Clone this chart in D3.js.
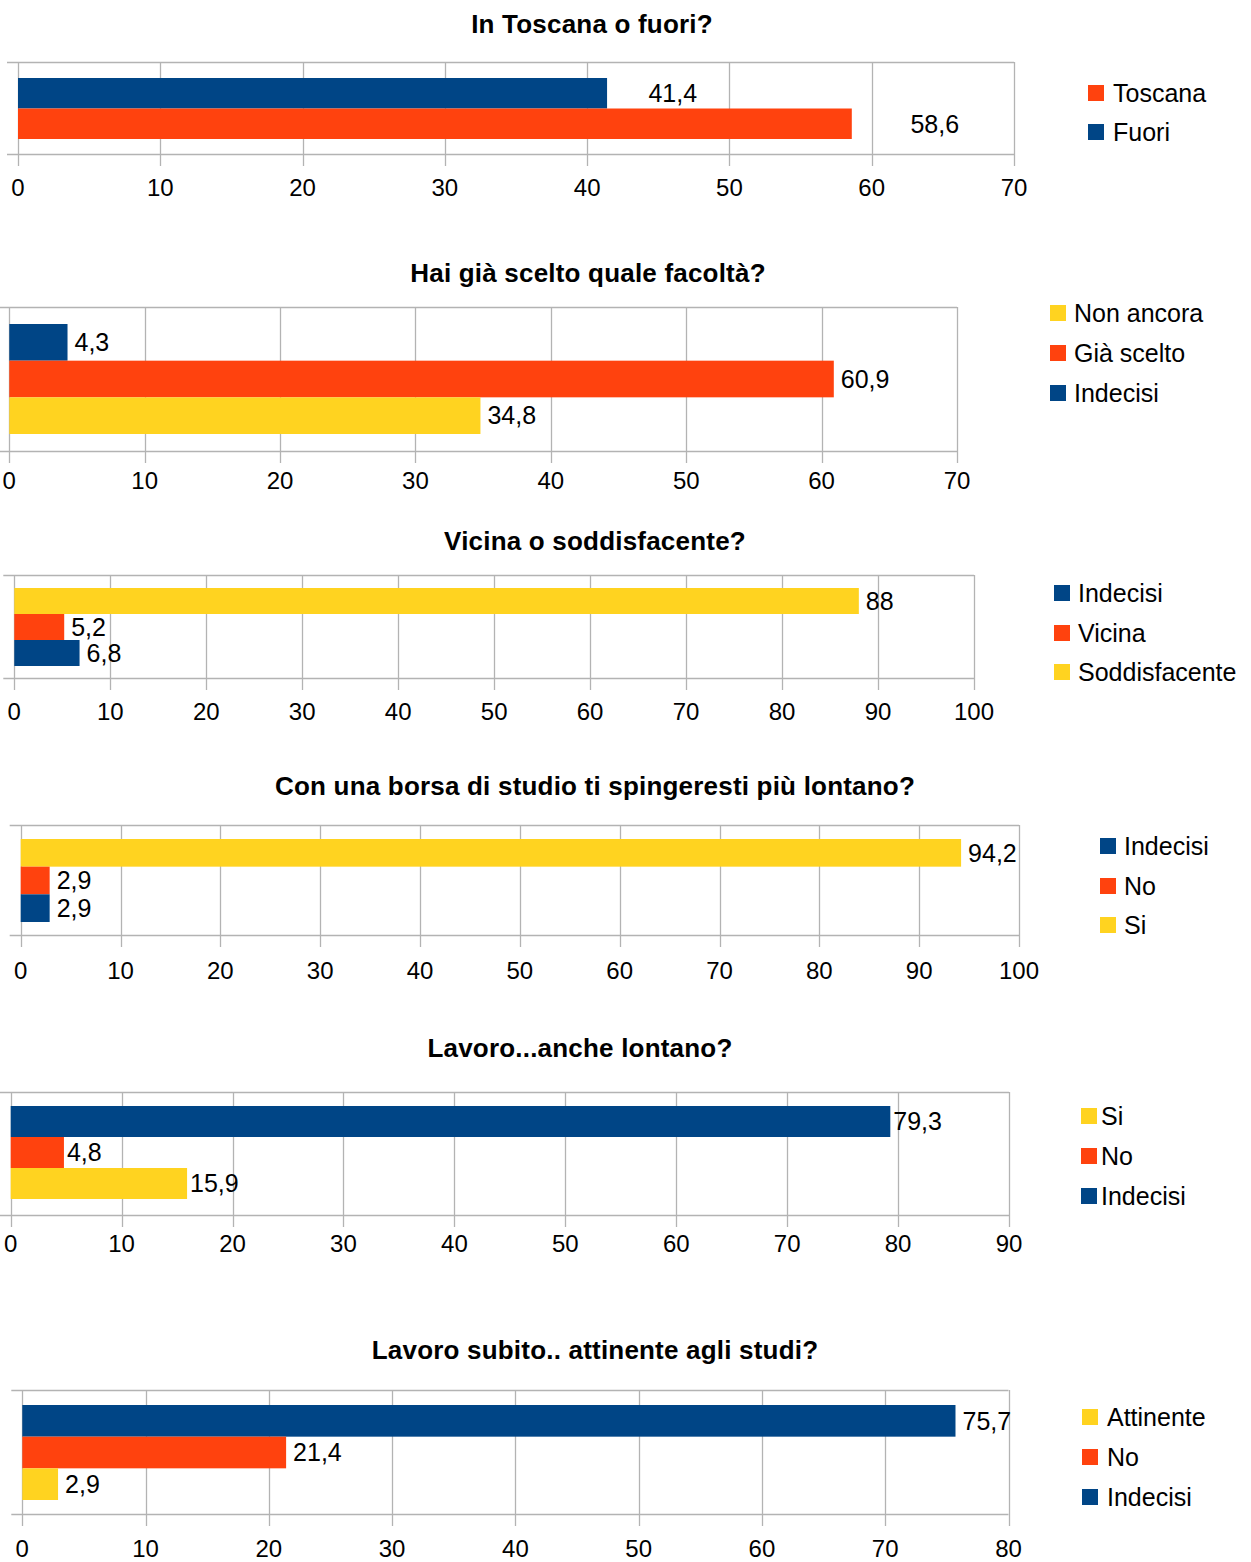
<!DOCTYPE html>
<html>
<head>
<meta charset="utf-8">
<title>Sondaggio</title>
<style type="text/css">
  body { margin: 0; background: #fff; }
  text { font-family: "Liberation Sans", Arial, sans-serif; fill: #000; }
</style>
<script src="https://cdn.jsdelivr.net/npm/d3@7/dist/d3.min.js"></script>
</head>
<body>
<svg id="charts" width="1251" height="1562"></svg>
<script type="text/javascript">
// data, one entry per chart; series are listed in series order (1st = blue, 2nd = orange, 3rd = yellow)
var titles = [
  "In Toscana o fuori?",
  "Hai già scelto quale facoltà?",
  "Vicina o soddisfacente?",
  "Con una borsa di studio ti spingeresti più lontano?",
  "Lavoro...anche lontano?",
  "Lavoro subito.. attinente agli studi?"
];
var seriesNames = [
  ["Fuori", "Toscana"],
  ["Indecisi", "Già scelto", "Non ancora"],
  ["Indecisi", "Vicina", "Soddisfacente"],
  ["Indecisi", "No", "Si"],
  ["Indecisi", "No", "Si"],
  ["Indecisi", "No", "Attinente"]
];
var seriesValues = [
  [41.4, 58.6],
  [4.3, 60.9, 34.8],
  [6.8, 5.2, 88],
  [2.9, 2.9, 94.2],
  [79.3, 4.8, 15.9],
  [75.7, 21.4, 2.9]
];
var axisMax = [70, 70, 100, 100, 90, 80];
var tickStep = [10, 10, 10, 10, 10, 10];

var palette = ["#004586", "#ff420e", "#ffd320"];
var gridColor = "#b3b3b3";

// where each chart sits on the page
var layout = [
  {titleX: 592, titleY: 24, top: 62, bottom: 154, x0: 18, x1: 1014, barTop: 78, barBottom: 139,
   tickY: 188, legSq: 1088, legText: 1113, legRows: [93, 132], barsReversed: false, gap: 0, gapPerUnit: 1},
  {titleX: 588, titleY: 273, top: 307, bottom: 451, x0: 9.3, x1: 957, barTop: 324, barBottom: 434,
   tickY: 481, legSq: 1050, legText: 1074, legRows: [313, 353, 393], barsReversed: false, gap: 7, gapPerUnit: 0},
  {titleX: 595, titleY: 541, top: 575, bottom: 678, x0: 14.3, x1: 974, barTop: 588, barBottom: 666,
   tickY: 712, legSq: 1054, legText: 1078, legRows: [593, 633, 672], barsReversed: true, gap: 7, gapPerUnit: 0},
  {titleX: 595, titleY: 786, top: 825, bottom: 935, x0: 20.7, x1: 1019, barTop: 839, barBottom: 922,
   tickY: 971, legSq: 1100, legText: 1124, legRows: [846, 886, 925], barsReversed: true, gap: 7, gapPerUnit: 0},
  {titleX: 580, titleY: 1048, top: 1092, bottom: 1215, x0: 10.7, x1: 1009, barTop: 1106, barBottom: 1199,
   tickY: 1244, legSq: 1081, legText: 1101, legRows: [1116, 1156, 1196], barsReversed: false, gap: 3, gapPerUnit: 0},
  {titleX: 595, titleY: 1350, top: 1390, bottom: 1514, x0: 22.3, x1: 1008.5, barTop: 1405, barBottom: 1500,
   tickY: 1549, legSq: 1082, legText: 1107, legRows: [1417, 1457, 1497], barsReversed: false, gap: 7, gapPerUnit: 0}
];

var svg = d3.select("#charts");

function fmt(v) { return String(v).replace(".", ","); }

titles.forEach(function (title, i) {
  var l = layout[i];
  var g = svg.append("g");
  var series = seriesNames[i].map(function (name, k) {
    return {name: name, value: seriesValues[i][k], color: palette[k]};
  });

  var x = d3.scaleLinear().domain([0, axisMax[i]]).range([l.x0, l.x1]);
  var barOrder = l.barsReversed ? series.slice().reverse() : series;
  var legendOrder = l.barsReversed ? series : series.slice().reverse();
  var y = d3.scaleBand()
    .domain(barOrder.map(function (d) { return d.name; }))
    .range([l.barTop, l.barBottom]);
  var ticks = d3.range(0, axisMax[i] + tickStep[i] / 2, tickStep[i]);

  g.append("text")
    .attr("x", l.titleX).attr("y", l.titleY).attr("dy", "0.35em")
    .attr("text-anchor", "middle")
    .style("font-size", "26px").style("font-weight", "bold").style("letter-spacing", "0.2px")
    .text(title);

  // vertical grid lines, running down into the tick marks
  g.selectAll("line.v").data(ticks).enter().append("line")
    .attr("class", "v")
    .attr("x1", function (d) { return Math.round(x(d)) + 0.5; })
    .attr("x2", function (d) { return Math.round(x(d)) + 0.5; })
    .attr("y1", l.top).attr("y2", l.bottom + 12)
    .style("stroke", gridColor).style("stroke-width", 1.3);

  // top and bottom lines, sticking out a little on the left
  g.selectAll("line.h").data([l.top, l.bottom]).enter().append("line")
    .attr("class", "h")
    .attr("x1", l.x0 - 11).attr("x2", l.x1)
    .attr("y1", function (d) { return Math.round(d) + 0.5; })
    .attr("y2", function (d) { return Math.round(d) + 0.5; })
    .style("stroke", gridColor).style("stroke-width", 1.3);

  g.selectAll("rect.bar").data(barOrder).enter().append("rect")
    .attr("class", "bar")
    .attr("x", x(0))
    .attr("y", function (d) { return y(d.name); })
    .attr("width", function (d) { return x(d.value) - x(0); })
    .attr("height", y.bandwidth())
    .style("fill", function (d) { return d.color; });

  g.selectAll("text.val").data(barOrder).enter().append("text")
    .attr("class", "val")
    .attr("x", function (d) { return x(d.value) + l.gap + l.gapPerUnit * d.value; })
    .attr("y", function (d) { return y(d.name) + y.bandwidth() / 2; })
    .attr("dy", "0.35em")
    .style("font-size", "25px")
    .text(function (d) { return fmt(d.value); });

  g.selectAll("text.tick").data(ticks).enter().append("text")
    .attr("class", "tick")
    .attr("x", function (d) { return x(d); })
    .attr("y", l.tickY).attr("dy", "0.35em")
    .attr("text-anchor", "middle")
    .style("font-size", "24px")
    .text(function (d) { return d; });

  var leg = g.selectAll("g.leg").data(legendOrder).enter().append("g")
    .attr("class", "leg")
    .attr("transform", function (d, k) { return "translate(0," + l.legRows[k] + ")"; });
  leg.append("rect")
    .attr("x", l.legSq).attr("y", -8).attr("width", 16).attr("height", 16)
    .style("fill", function (d) { return d.color; });
  leg.append("text")
    .attr("x", l.legText).attr("y", 0).attr("dy", "0.35em")
    .style("font-size", "25px")
    .text(function (d) { return d.name; });
});
</script>
</body>
</html>
